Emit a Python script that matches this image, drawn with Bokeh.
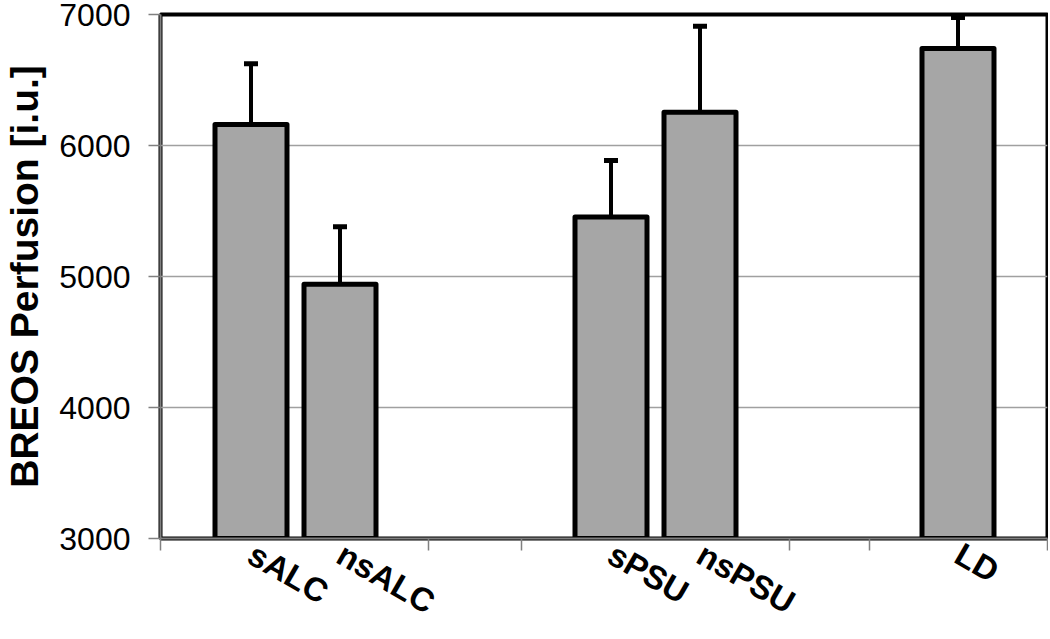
from bokeh.plotting import figure
from bokeh.models import Range1d, FixedTicker, LinearAxis
from bokeh.embed import file_html
from bokeh.resources import INLINE

# ---- data ----
categories = ["sALC", "nsALC", "sPSU", "nsPSU", "LD"]
values = [6160, 4940, 5455, 6253, 6740]
err_upper = [6625, 5380, 5885, 6910, 6977]
y_ticks = [3000, 4000, 5000, 6000, 7000]

# ---- layout (x positions in frame units) ----
bar_centers = [90.5, 179.5, 450.5, 539.5, 797.5]
group_edges = [0, 268, 361, 629, 709, 887]
bar_width = 72
y_min, y_max = 3000, 7000

FONT = "Liberation Sans"

p = figure(width=1048, height=639, output_backend="svg", toolbar_location=None,
           x_range=Range1d(0, 887), y_range=Range1d(y_min, y_max),
           x_axis_type=None, min_border_left=160, min_border_top=14,
           min_border_right=1, min_border_bottom=100)

p.outline_line_color = "black"
p.outline_line_width = 4
p.background_fill_color = "white"
p.border_fill_color = "white"

# grid
p.xgrid.visible = False
p.ygrid.ticker = FixedTicker(ticks=y_ticks)
p.ygrid.grid_line_color = "#a0a0a0"
p.ygrid.grid_line_width = 1.5

# y axis
ya = p.yaxis[0]
ya.ticker = FixedTicker(ticks=y_ticks)
ya.axis_line_color = "#808080"
ya.axis_line_width = 2
ya.major_tick_line_color = "#808080"
ya.major_tick_line_width = 1.5
ya.major_tick_out = 12
ya.major_tick_in = 0
ya.minor_tick_line_color = None
ya.major_label_standoff = 18
ya.major_label_text_font = FONT
ya.major_label_text_font_size = "32px"
ya.major_label_text_color = "black"
ya.axis_label = "BREOS Perfusion [i.u.]"
ya.axis_label_text_font = FONT
ya.axis_label_text_font_size = "39px"
ya.axis_label_text_font_style = "bold"
ya.axis_label_text_color = "black"
ya.axis_label_standoff = 10

# x axis: labels at bar centres, boundary tick marks as minor ticks
xa = LinearAxis(ticker=FixedTicker(ticks=bar_centers, minor_ticks=group_edges),
                major_label_overrides={c: n for c, n in zip(bar_centers, categories)})
xa.axis_line_color = "#808080"
xa.axis_line_width = 2
xa.major_tick_line_color = None
xa.major_tick_out = 0
xa.major_tick_in = 0
xa.minor_tick_line_color = "#808080"
xa.minor_tick_line_width = 1.5
xa.minor_tick_out = 12
xa.minor_tick_in = 0
xa.major_label_standoff = 1
xa.major_label_text_font = FONT
xa.major_label_text_font_size = "33px"
xa.major_label_text_font_style = "bold"
xa.major_label_text_color = "black"
xa.major_label_orientation = -0.5236
p.add_layout(xa, "below")

# error bars (upper only)
p.segment(x0=bar_centers, y0=values, x1=bar_centers, y1=err_upper,
          line_color="black", line_width=4)
p.scatter(x=bar_centers, y=err_upper, marker="dash", size=14,
          line_color="black", line_width=5)

# bars
p.vbar(x=bar_centers, top=values, bottom=y_min, width=bar_width,
       fill_color="#a6a6a6", line_color="black", line_width=5, line_join="round")

open("out.html", "w").write(file_html(p, INLINE))
